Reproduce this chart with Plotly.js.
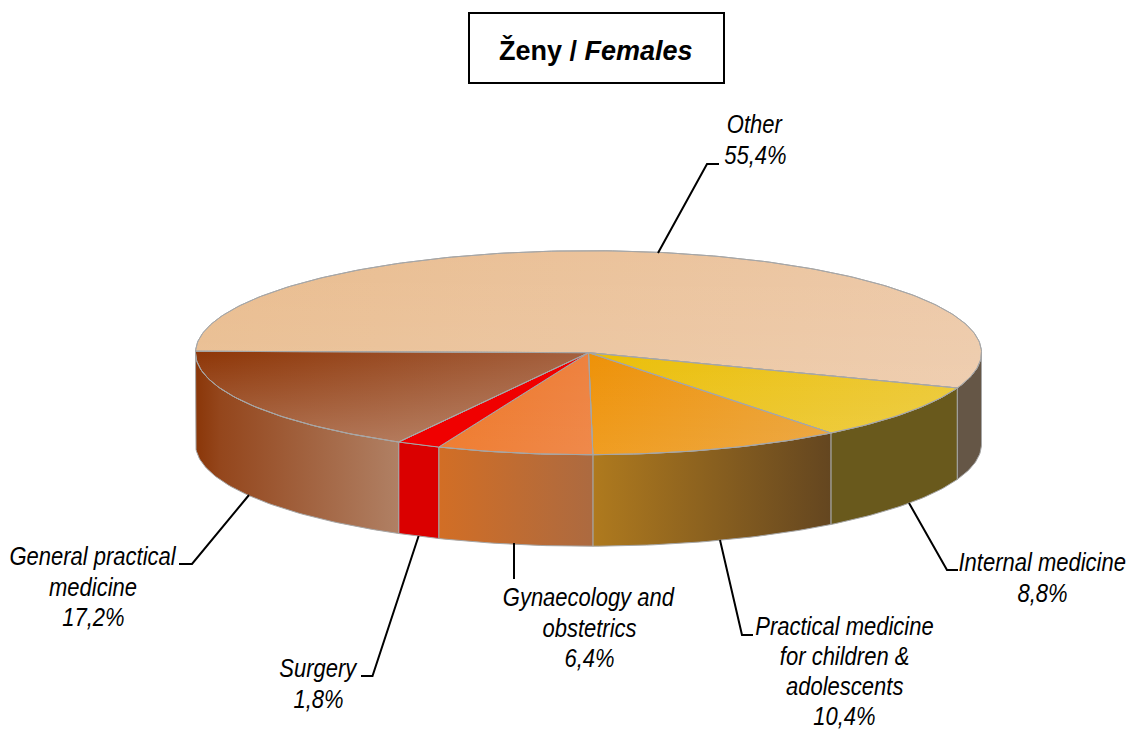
<!DOCTYPE html>
<html>
<head>
<meta charset="utf-8">
<script src="https://cdn.plot.ly/plotly-3.0.1.min.js"></script>
<style>html,body{margin:0;padding:0;background:#fff}#chart{width:1130px;height:731px}</style>
</head>
<body>
<div id="chart"></div>
<script>
// Data, clockwise from the left edge of the pie
const categories = ["Other", "Internal medicine", "Practical medicine for children & adolescents", "Gynaecology and obstetrics", "Surgery", "General practical medicine"];
const shares = [55.4, 8.8, 10.4, 6.4, 1.8, 17.2];
const labelLines = [["Other"], ["Internal medicine"], ["Practical medicine", "for children &", "adolescents"], ["Gynaecology and", "obstetrics"], ["Surgery"], ["General practical", "medicine"]];
const titleText = "<b>Ženy / <i>Females</i></b>";

// Styles, same order
const topLeft  = ["#E9BC8E", "#EBBE08", "#EE9208", "#EE7626", "#F00000", "#8E3607"];
const topRight = ["#EDC9A8", "#ECC832", "#EBA032", "#EE8240", "#F00000", "#A4603E"];
const topLift  = [0.10, 0.10, 0.10, 0.06, 0, 0.26];
const wallStops = [
  [[0, "#655646"], [1, "#655646"]],
  [[0, "#69591C"], [1, "#69591C"]],
  [[0, "#AF7A1E"], [1, "#644620"]],
  [[0, "#D26E25"], [1, "#AC6A40"]],
  [[0, "#DA0000"], [1, "#DA0000"]],
  [[0, "#8A3608"], [0.12, "#94461C"], [1, "#B08064"]]
];

// Layout of the pie and its callouts
const cx = 588.5, cy = 352.7, rx = 393, ry = 102, depth = 91.5, startDeg = 179.2;
const edge = "#A6A6A6";
const labelPos = [[755, 124], [1042, 562], [844, 626], [589, 597], [318, 668], [93, 556]];
const lineSteps = [30.6, 30.6, 30, 30.6, 30.6, 30.6];
const labelSqueeze = 0.88;
const leaders = [
  [[658, 253], [707, 164], [719, 164]],
  [[909, 503], [947, 570], [958, 570]],
  [[720, 540], [742, 635], [753, 635]],
  [[514, 543], [514, 579]],
  [[418.6, 536], [372.5, 676], [361, 676]],
  [[249, 495], [192, 564], [179, 564]]
];

const rad = d => d * Math.PI / 180;
function arc(from, to, dy) {
  const n = Math.max(2, Math.ceil(Math.abs(from - to)));
  const xs = [], ys = [];
  for (let i = 0; i <= n; i++) {
    const a = rad(from + (to - from) * i / n);
    xs.push(cx + rx * Math.cos(a));
    ys.push(cy - ry * Math.sin(a) + dy);
  }
  return [xs, ys];
}
const poly = (x, y, extra) => Object.assign({
  type: "scatter", mode: "lines", x, y, fill: "toself", hoverinfo: "skip", showlegend: false
}, extra);

// Slice boundaries from the shares
const total = shares.reduce((a, b) => a + b, 0);
let running = startDeg;
const spans = shares.map(v => { const s = running; running -= v / total * 360; return [s, running]; });

const walls = [], tops = [];
spans.forEach(([a, b], i) => {
  // front wall: only the part below the horizontal diameter shows
  const from = Math.min(a, 0), to = Math.max(b, -180);
  if (from > to) {
    const [tx, ty] = arc(from, to, 0);
    const [bx, by] = arc(to, from, depth);
    walls.push(poly(tx.concat(bx, [tx[0]]), ty.concat(by, [ty[0]]), {
      line: {color: edge, width: 1},
      fillgradient: {type: "horizontal", colorscale: wallStops[i]}
    }));
  }
  const [ax, ay] = arc(a, b, 0);
  const px = [cx].concat(ax, [cx]), py = [cy].concat(ay, [cy]);
  tops.push(poly(px, py, {
    line: {color: edge, width: 1},
    fillgradient: {type: "horizontal", colorscale: [[0, topLeft[i]], [1, topRight[i]]]}
  }));
  if (topLift[i] > 0) {
    tops.push(poly(px, py, {
      line: {color: edge, width: 1},
      fillgradient: {type: "vertical", colorscale: [[0, "rgba(255,255,255," + topLift[i] + ")"], [1, "rgba(255,255,255,0)"]]}
    }));
  }
});

// Callout text
const annotations = [];
categories.forEach((c, i) => {
  const lines = labelLines[i].concat([shares[i].toFixed(1).replace(".", ",") + "%"]);
  lines.forEach((t, k) => annotations.push({
    x: labelPos[i][0], y: labelPos[i][1] + k * lineSteps[i], xref: "x", yref: "y",
    text: "<i>" + t.replace("&", "&amp;") + "</i>", showarrow: false, xanchor: "center", yanchor: "middle",
    font: {family: "Liberation Sans, Arial, sans-serif", size: 25, color: "#000"}
  }));
});
const calloutCount = annotations.length;
annotations.push({
  x: 596, y: 50, xref: "x", yref: "y", text: titleText, showarrow: false, xanchor: "center", yanchor: "middle",
  font: {family: "Liberation Sans, Arial, sans-serif", size: 27, color: "#000"}
});

const shapes = leaders.map(pts => ({
  type: "path", xref: "x", yref: "y",
  path: pts.map((p, i) => (i ? "L" : "M") + p[0] + "," + p[1]).join(" "),
  line: {color: "#000", width: 2}
}));
shapes.push({type: "rect", xref: "x", yref: "y", x0: 469, x1: 724, y0: 13, y1: 83, line: {color: "#000", width: 2}, fillcolor: "#fff", layer: "below"});

Plotly.newPlot("chart", walls.concat(tops), {
  width: 1130, height: 731, margin: {l: 0, r: 0, t: 0, b: 0},
  paper_bgcolor: "#fff", plot_bgcolor: "#fff", showlegend: false,
  xaxis: {range: [0, 1130], visible: false, fixedrange: true},
  yaxis: {range: [731, 0], visible: false, fixedrange: true},
  annotations, shapes
}, {displayModeBar: false, staticPlot: true}).then(() => {
  // The reference's callouts are a condensed italic: narrow them around their own centres
  document.querySelectorAll("#chart .annotation-text").forEach((el, i) => {
    if (i >= calloutCount) return;
    const b = el.getBBox(), mid = b.x + b.width / 2;
    el.setAttribute("transform", `translate(${mid},0) scale(${labelSqueeze},1) translate(${-mid},0)`);
  });
});
</script>
</body>
</html>
